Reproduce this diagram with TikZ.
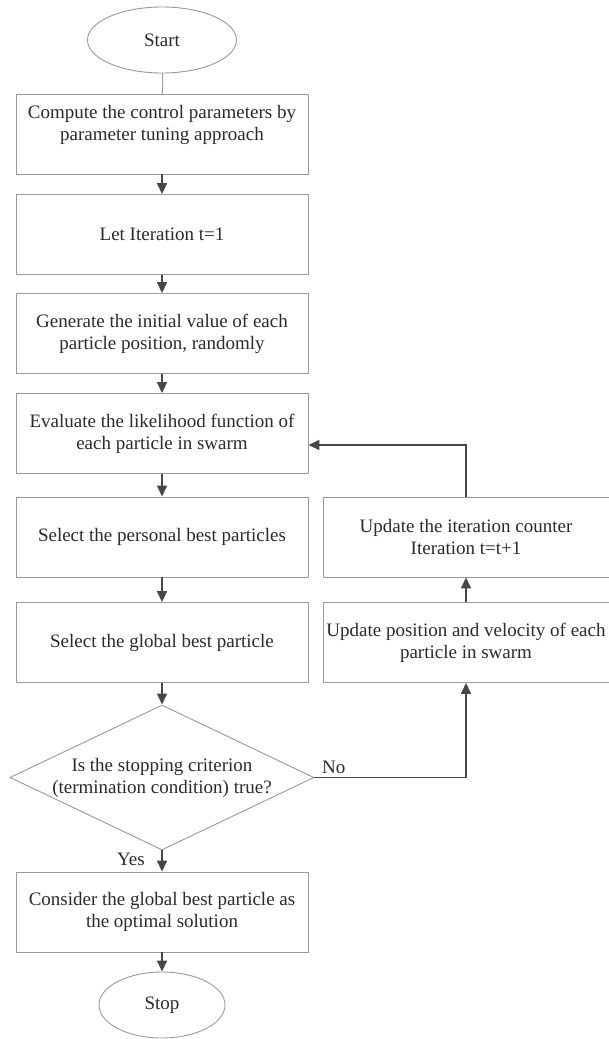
\documentclass[tikz,border=0pt]{standalone}
\usepackage{fontspec}
\setmainfont{Liberation Serif}
\usepackage{xcolor}
\usepackage{tikz}
\usetikzlibrary{arrows.meta}
\usetikzlibrary{shapes.geometric}
\definecolor{boxgray}{HTML}{9A9A9A}
\definecolor{arrgray}{HTML}{474747}
\definecolor{txtgray}{HTML}{2A2A2A}

\begin{document}
\begin{tikzpicture}[x=1pt,y=-1pt]
	\useasboundingbox (0,0) rectangle (609,1039);
	\tikzstyle{every node}=[font=\fontsize{19}{22}\selectfont,text=txtgray,align=center];
	\tikzstyle{box}=[draw=boxgray,line width=0.9pt,minimum width=292pt,minimum height=80pt,inner sep=0pt];
	\tikzstyle{term}=[draw=boxgray,line width=0.9pt,shape=ellipse,inner sep=0pt];
	\tikzstyle{cond}=[draw=boxgray,line width=0.9pt,shape=diamond,aspect=2.1,inner xsep=-20pt,inner ysep=0pt,minimum width=304pt,minimum height=145pt];
	\tikzstyle{arr}=[draw=arrgray,line width=1.6pt,-{Triangle[length=11pt,width=10pt]}];
	\node[term,minimum width=149pt,minimum height=66pt] (start) at (162,40) {Start};
	\node[box] (comp) at (162,134) {Compute the control parameters by\\parameter tuning approach\\ \mbox{}};
	\node[box] (iter) at (162,234.5) {Let Iteration t=1};
	\node[box] (gen) at (162,333.5) {Generate the initial value of each\\particle position, randomly};
	\node[box] (eval) at (162,433.5) {Evaluate the likelihood function of\\each particle in swarm};
	\node[box] (pbest) at (162,537) {Select the personal best particles};
	\node[box] (gbest) at (162,642.5) {Select the global best particle};
	\node[cond] (stopq) at (162,777.5) {Is the stopping criterion\\(termination condition) true?};
	\node[box] (cons) at (162,912) {Consider the global best particle as\\the optimal solution};
	\node[term,minimum width=126pt,minimum height=66pt] (stop) at (162,1005) {Stop};
	\node[box,minimum width=286pt] (upd) at (466,537) {Update the iteration counter\\Iteration t=t+1};
	\node[box,minimum width=286pt] (pos) at (466,642.5) {Update position and velocity of each\\particle in swarm};
	\node (yes) at (131,859) {Yes};
	\node[anchor=west,inner sep=0pt] (no) at (322,767) {No};
	\coordinate (loop) at (466,445);
	\draw[draw=boxgray,line width=0.9pt] (start)--(comp);
	\draw[arr] (comp)--(iter);
	\draw[arr] (iter)--(gen);
	\draw[arr] (gen)--(eval);
	\draw[arr] (eval)--(pbest);
	\draw[arr] (pbest)--(gbest);
	\draw[arr] (gbest)--(stopq);
	\draw[arr] (stopq)--(cons);
	\draw[arr] (cons)--(stop);
	\draw[arr] (stopq.east) -| (pos.south);
	\draw[arr] (pos)--(upd);
	\draw[arr] (upd.north)--(loop)--(loop -| eval.east);
\end{tikzpicture}
\end{document}
